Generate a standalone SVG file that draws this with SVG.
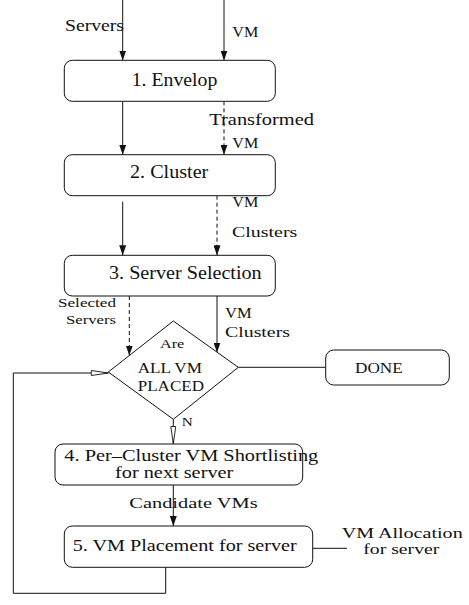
<svg xmlns="http://www.w3.org/2000/svg" width="469" height="605" viewBox="0 0 469 605">
<defs>
<marker id="ah" markerUnits="userSpaceOnUse" markerWidth="10" markerHeight="7" refX="10" refY="3.5" orient="auto">
<path d="M0,0 L10,3.5 L0,7 z" fill="#111"/>
</marker>
<marker id="oh" markerUnits="userSpaceOnUse" markerWidth="20" markerHeight="8" refX="18" refY="3" orient="auto">
<path d="M1,0.5 L18,3 L1,5.5 z" fill="#fff" stroke="#111" stroke-width="0.9"/>
</marker>
<style>
.box{fill:#fff;stroke:#111;stroke-width:1}
.ln{fill:none;stroke:#111;stroke-width:1}
.ar{fill:none;stroke:#111;stroke-width:1;marker-end:url(#ah)}
.da{fill:none;stroke:#111;stroke-width:1;stroke-dasharray:4 3;marker-end:url(#ah)}
.op{fill:none;stroke:#111;stroke-width:1;marker-end:url(#oh)}
text{font-family:"Liberation Serif","Times New Roman",serif;fill:#111}
</style>
</defs>
<g id="connectors">
<line class="ar" x1="122.7" y1="0" x2="122.7" y2="60.5"/>
<line class="ar" x1="224" y1="0" x2="224" y2="60.5"/>
<line class="ar" x1="122.7" y1="101.3" x2="122.7" y2="154.7"/>
<line class="da" x1="224" y1="101.3" x2="224" y2="154.7"/>
<line class="ar" x1="122.7" y1="201.7" x2="122.7" y2="255.3"/>
<line class="da" x1="217" y1="195.7" x2="217" y2="255.3"/>
<line class="da" x1="129.3" y1="296" x2="129.3" y2="355.5"/>
<line class="ar" x1="217" y1="296" x2="217" y2="352.5"/>
<line class="ln" x1="238.3" y1="367.3" x2="325.7" y2="367.3"/>
<line class="op" x1="173.3" y1="419.3" x2="173.3" y2="443.5"/>
<line class="ar" x1="173.3" y1="485" x2="173.3" y2="526"/>
<line class="ln" x1="312.7" y1="548.3" x2="347" y2="548.3"/>
<polyline class="op" points="165.7,567.3 165.7,593.3 13.3,593.3 13.3,373 108.3,373"/>
<text x="65" y="31" font-size="16" textLength="59" lengthAdjust="spacingAndGlyphs">Servers</text>
<text x="232.3" y="36.7" font-size="14" textLength="26" lengthAdjust="spacingAndGlyphs">VM</text>
<text x="209.3" y="125" font-size="16" textLength="104.7" lengthAdjust="spacingAndGlyphs">Transformed</text>
<text x="232.3" y="148.3" font-size="14" textLength="26" lengthAdjust="spacingAndGlyphs">VM</text>
<text x="232.3" y="207.3" font-size="14" textLength="26" lengthAdjust="spacingAndGlyphs">VM</text>
<text x="232" y="236.7" font-size="15" textLength="65.3" lengthAdjust="spacingAndGlyphs">Clusters</text>
<text x="58" y="307" font-size="12.5" textLength="58" lengthAdjust="spacingAndGlyphs">Selected</text>
<text x="66" y="324" font-size="12.5" textLength="50" lengthAdjust="spacingAndGlyphs">Servers</text>
<text x="225" y="318.3" font-size="14" textLength="26.7" lengthAdjust="spacingAndGlyphs">VM</text>
<text x="225" y="337.3" font-size="15" textLength="65" lengthAdjust="spacingAndGlyphs">Clusters</text>
<text x="181.7" y="426" font-size="13" textLength="11" lengthAdjust="spacingAndGlyphs">N</text>
<text x="129.3" y="508.3" font-size="15" textLength="128.3" lengthAdjust="spacingAndGlyphs">Candidate VMs</text>
<text x="341.7" y="537.5" font-size="14" textLength="121" lengthAdjust="spacingAndGlyphs">VM Allocation</text>
<text x="363.3" y="554" font-size="14" textLength="76" lengthAdjust="spacingAndGlyphs">for server</text>
</g>
<g id="n1">
<rect class="box" x="64.3" y="60.3" width="211" height="41" rx="8"/>
<text x="131.7" y="85.5" font-size="18" textLength="85.7" lengthAdjust="spacingAndGlyphs">1. Envelop</text>
</g>
<g id="n2">
<rect class="box" x="64.3" y="154.7" width="211" height="41" rx="8"/>
<text x="130" y="178.3" font-size="18" textLength="78.3" lengthAdjust="spacingAndGlyphs">2. Cluster</text>
</g>
<g id="n3">
<rect class="box" x="64.3" y="255.3" width="211" height="40.7" rx="8"/>
<text x="109" y="279" font-size="18" textLength="152.7" lengthAdjust="spacingAndGlyphs">3. Server Selection</text>
</g>
<g id="decision">
<polygon class="box" points="173.3,321 238.3,367.3 173.3,419.3 108.3,372"/>
<text x="160" y="348.3" font-size="13" textLength="24.3" lengthAdjust="spacingAndGlyphs">Are</text>
<text x="137.7" y="373.3" font-size="14" textLength="64.3" lengthAdjust="spacingAndGlyphs">ALL VM</text>
<text x="137.7" y="390.7" font-size="14" textLength="66.3" lengthAdjust="spacingAndGlyphs">PLACED</text>
</g>
<g id="done">
<rect class="box" x="325.7" y="350" width="123.6" height="35" rx="8"/>
<text x="355" y="372.7" font-size="14" textLength="47.7" lengthAdjust="spacingAndGlyphs">DONE</text>
</g>
<g id="n4">
<rect class="box" x="55" y="444" width="247.7" height="41" rx="8"/>
<text x="64.3" y="461" font-size="16" textLength="254" lengthAdjust="spacingAndGlyphs">4. Per–Cluster VM Shortlisting</text>
<text x="115" y="477.8" font-size="16" textLength="118.3" lengthAdjust="spacingAndGlyphs">for next server</text>
</g>
<g id="n5">
<rect class="box" x="64.3" y="526" width="248.4" height="41.3" rx="8"/>
<text x="72.7" y="551" font-size="16" textLength="224" lengthAdjust="spacingAndGlyphs">5. VM Placement for server</text>
</g>
</svg>
